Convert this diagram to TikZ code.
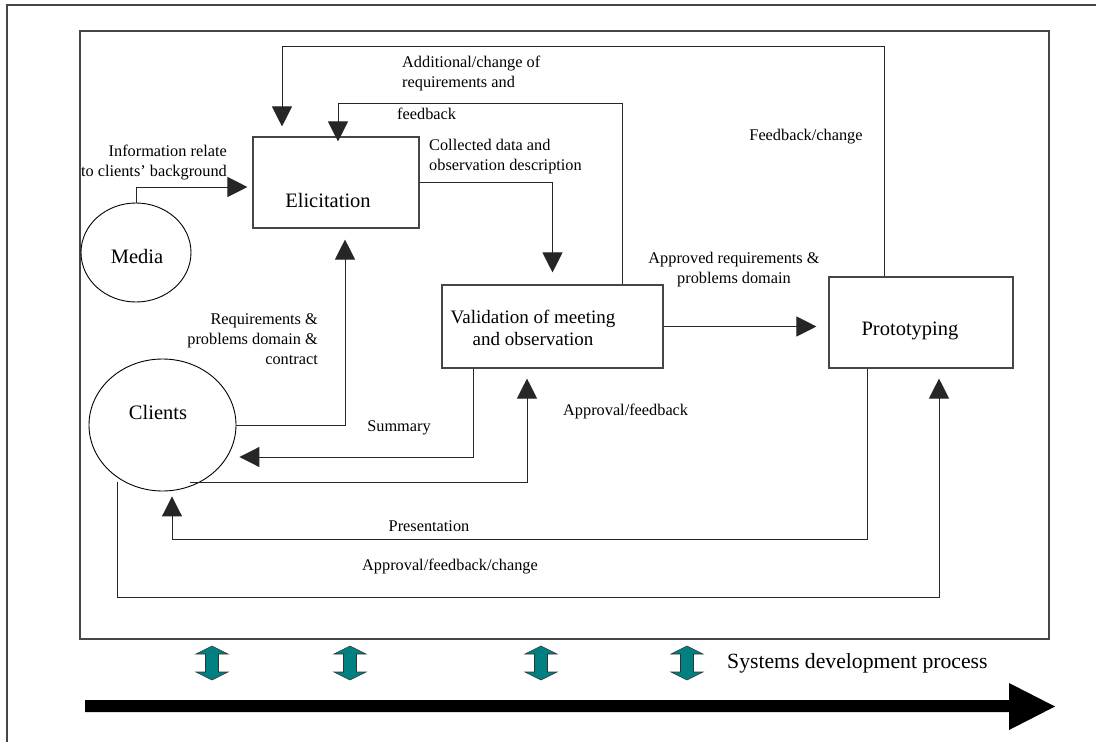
\documentclass[tikz,border=0pt]{standalone}
\usepackage{fontspec}
\setmainfont{Liberation Serif}
\usetikzlibrary{arrows.meta,shapes.geometric,calc}
\definecolor{tealc}{RGB}{0,128,128}
\definecolor{framec}{RGB}{70,70,70}
\begin{document}
\begin{tikzpicture}[x=1pt,y=-1pt,
  lbl/.style={font=\fontsize{16.3}{20}\selectfont, inner sep=0pt, align=center},
  big/.style={font=\fontsize{20.5}{23}\selectfont, inner sep=0pt, align=center},
  box/.style={draw=framec, line width=1.1pt, rectangle, inner sep=0pt},
  circ/.style={draw=black, line width=0.9pt, ellipse, inner sep=0pt},
  conn/.style={draw=black!85, line width=1pt},
  arr/.style={conn, -{Triangle[length=20pt,width=20pt]}},
  dbl/.pic={\filldraw[fill=tealc, draw=black!80, line width=0.6pt]
     (0,-17) -- (16,-9) -- (6.5,-9) -- (6.5,9) -- (16,9) -- (0,17)
     -- (-16,9) -- (-6.5,9) -- (-6.5,-9) -- (-16,-9) -- cycle;}
]
\useasboundingbox (0,0) rectangle (1096,742);
% frames
\draw[line width=1.2pt, framec] (7,742) -- (7,5) -- (1096,5);
\draw[line width=1.1pt, framec] (80,31) rectangle (1049,639);

% nodes
\node[box, minimum width=166pt, minimum height=91pt] (eli) at (336,182.5) {};
\node[big] (elit) at (328,200) {Elicitation};
\node[box, minimum width=221pt, minimum height=83pt] (val) at (552.5,326.5) {};
\node[font=\fontsize{19}{22}\selectfont, inner sep=0pt, align=center] (valt) at (533,328) {Validation of meeting\\and observation};
\node[box, minimum width=184pt, minimum height=91pt] (proto) at (921,322.5) {};
\node[big] (protot) at (910,331) {Prototyping};
\node[circ, minimum width=110pt, minimum height=99pt] (media) at (136,252.5) {};
\node[big] (mediat) at (137,256) {Media};
\node[circ, minimum width=147pt, minimum height=132pt] (cli) at (162.5,425) {};
\node[big] (clit) at (158,412) {Clients};

% connectors
\draw[arr] (media.north) |- ([xshift=-5pt,yshift=-4.5pt]eli.west);
\draw[arr] ([xshift=-37pt]proto.north) -- ++(0,-230) -| ([xshift=-54pt,yshift=10pt]eli.north);
\draw[arr] ([xshift=69.5pt]val.north) -- ++(0,-181) -| ([xshift=2pt,yshift=-5pt]eli.north);
\draw[arr] (eli.east) -| ([yshift=12pt]val.north);
\draw[arr] (val.east) -- ($(val.east -| proto.west)+(-12,0)$);
\draw[arr] (cli.east) -| ([xshift=9pt,yshift=-11pt]eli.south);
\draw[arr] ([xshift=-79.5pt]val.south) |- ($(cli.east)+(3,32)$);
\draw[arr] ($(cli.center)+(27.5,57)$) -| ([xshift=-25.5pt,yshift=-10pt]val.south);
\draw[arr] ([xshift=-54pt]proto.south) -- ++(0,171) -| ([xshift=9.5pt,yshift=-5pt]cli.south);
\draw[arr] ($(cli.center)+(-45.5,57)$) -- ++(0,115) -| ([xshift=18pt,yshift=-10pt]proto.south);

% labels
\node[lbl, align=right, anchor=east] (l1) at (227,163) {Information relate\\to clients’ background};
\node[lbl, align=left, anchor=west] (l2) at (402,73) {Additional/change of\\requirements and};
\node[lbl, anchor=west] (l3) at (397,114) {feedback};
\node[lbl, align=left, anchor=west] (l4) at (429,157) {Collected data and\\observation description};
\node[lbl] (l5) at (806,137) {Feedback/change};
\node[lbl] (l6) at (734,269.5) {Approved requirements \&\\problems domain};
\node[lbl, align=right, anchor=east] (l7) at (318,339) {Requirements \&\\problems domain \&\\contract};
\node[lbl] (l8) at (399,428) {Summary};
\node[lbl, anchor=west] (l9) at (563,411) {Approval/feedback};
\node[lbl] (l10) at (429,526) {Presentation};
\node[lbl] (l11) at (450,567) {Approval/feedback/change};

% bottom
\pic at (212,663) {dbl};
\pic at (350,663) {dbl};
\pic at (541,663) {dbl};
\pic at (687,663) {dbl};
\node[font=\fontsize{21.7}{24}\selectfont, inner sep=0pt, anchor=west] (sdp) at (727,663) {Systems development process};
\fill[black] (85,700) -- (1009,700) -- (1009,683) -- (1055,706.5) -- (1009,730) -- (1009,712) -- (85,712) -- cycle;
\end{tikzpicture}
\end{document}
